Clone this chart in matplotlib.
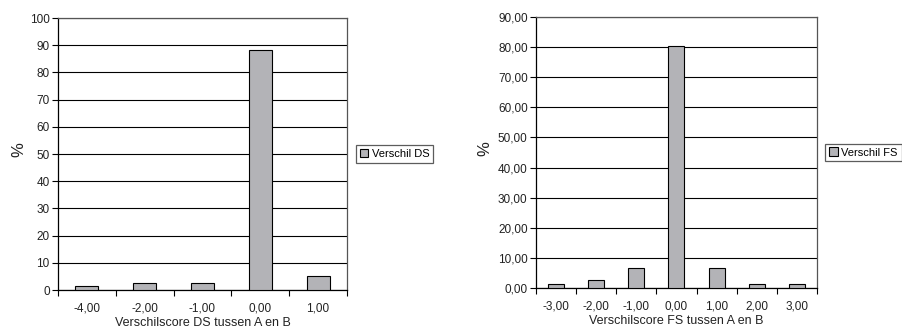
import matplotlib
matplotlib.use("Agg")
import matplotlib.pyplot as plt
import numpy as np
from matplotlib.patches import Patch

plt.rcParams['font.family'] = ['Liberation Sans', 'DejaVu Sans']

ds_categories = ['-4,00', '-2,00', '-1,00', '0,00', '1,00']
ds_values = [1.3, 2.5, 2.5, 88.3, 5.1]
ds_yticks = [0, 10, 20, 30, 40, 50, 60, 70, 80, 90, 100]
ds_yticklabels = ['0', '10', '20', '30', '40', '50', '60', '70', '80', '90', '100']

fs_categories = ['-3,00', '-2,00', '-1,00', '0,00', '1,00', '2,00', '3,00']
fs_values = [1.35, 2.5, 6.6, 80.5, 6.6, 1.35, 1.35]
fs_yticks = [0, 10, 20, 30, 40, 50, 60, 70, 80, 90]
fs_yticklabels = ['0,00', '10,00', '20,00', '30,00', '40,00', '50,00', '60,00', '70,00', '80,00', '90,00']

bar_color = '#b3b3b7'

fig = plt.figure(figsize=(9.02, 3.29), dpi=100)

def make(ax, cats, vals, yticks, yticklabels, xlabel, legend_label, ylab_x):
    n = len(cats)
    x = np.arange(n)
    ax.set_axisbelow(True)
    ax.bar(x, vals, width=0.4, color=bar_color, edgecolor='black', linewidth=0.8, zorder=3)
    ax.set_xlim(-0.5, n - 0.5)
    ax.set_ylim(yticks[0], yticks[-1])
    ax.set_yticks(yticks)
    ax.set_yticklabels(yticklabels, fontsize=8.5, color='#222222')
    ax.set_xticks(x)
    ax.set_xticklabels(cats, fontsize=8.5, color='#222222')
    ax.tick_params(axis='x', which='major', length=0, pad=9)
    ax.set_xticks(np.arange(-0.5, n, 1.0), minor=True)
    ax.tick_params(axis='x', which='minor', length=4, width=0.8, direction='out')
    ax.tick_params(axis='y', length=4, width=0.8, direction='out', pad=2)
    ax.yaxis.grid(True, color='black', linewidth=0.8)
    for s in ['left', 'bottom']:
        ax.spines[s].set_color('black')
        ax.spines[s].set_linewidth(0.9)
    for s in ['top', 'right']:
        ax.spines[s].set_color('#555555')
        ax.spines[s].set_linewidth(0.9)
    ax.set_xlabel(xlabel, fontsize=9, color='#222222', labelpad=2)
    ax.set_ylabel('%', fontsize=12, color='#222222')
    ax.yaxis.set_label_coords(ylab_x, 0.515)
    h = Patch(facecolor=bar_color, edgecolor='black', linewidth=0.8)
    leg = ax.legend([h], [legend_label], loc='center left', bbox_to_anchor=(1.03, 0.5),
                    fontsize=8, frameon=True, fancybox=False, handlelength=0.8,
                    handleheight=0.8, handletextpad=0.3, borderpad=0.35,
                    borderaxespad=0)
    leg.get_frame().set_edgecolor('#333333')
    leg.get_frame().set_linewidth(0.9)

ax1 = fig.add_axes([0.0643, 0.1185, 0.3204, 0.8267])
make(ax1, ds_categories, ds_values, ds_yticks, ds_yticklabels,
     'Verschilscore DS tussen A en B', 'Verschil DS', -0.11)

ax2 = fig.add_axes([0.5942, 0.1246, 0.3115, 0.8237])
make(ax2, fs_categories, fs_values, fs_yticks, fs_yticklabels,
     'Verschilscore FS tussen A en B', 'Verschil FS', -0.155)

fig.savefig('out.png', dpi=100)
